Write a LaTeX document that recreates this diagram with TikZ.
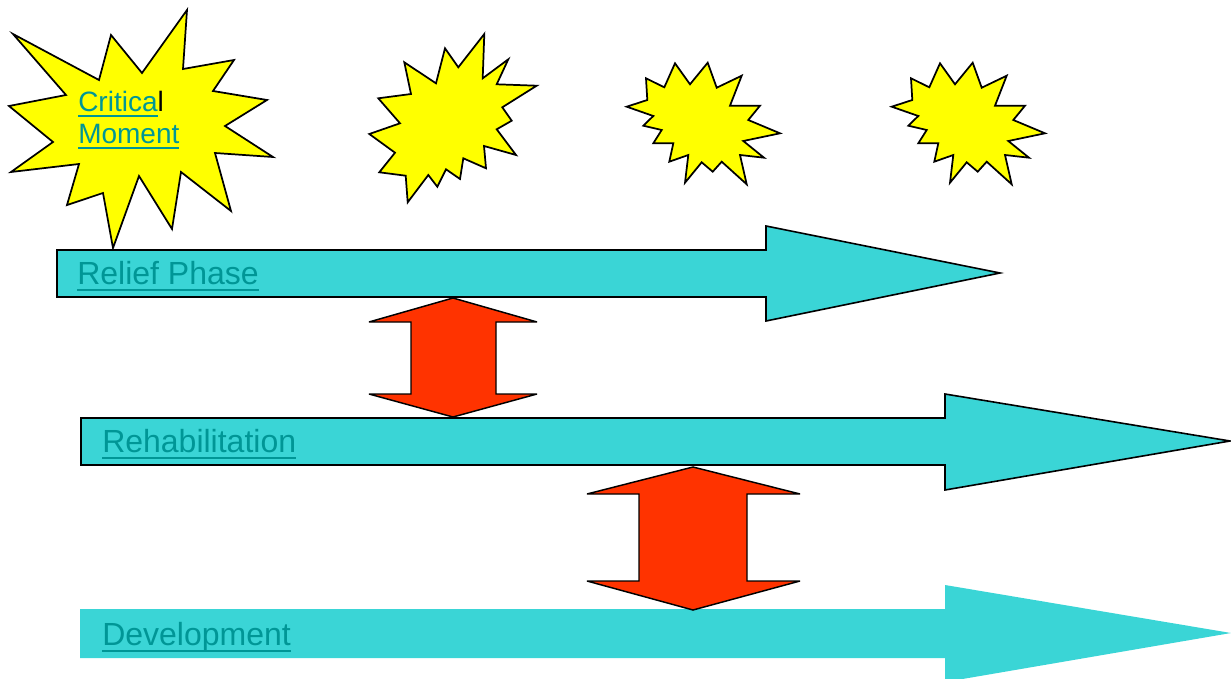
\documentclass[tikz,border=0pt]{standalone}
\usepackage{fontspec}
\setmainfont{Liberation Sans}
\definecolor{starY}{RGB}{255,255,0}
\definecolor{barC}{RGB}{58,213,214}
\definecolor{redA}{RGB}{255,51,0}
\definecolor{txtT}{RGB}{0,150,150}
\newcommand{\ulink}[1]{{\setbox0\hbox{#1}\rlap{\rule[-0.22em]{\wd0}{0.07em}}\box0}}
\tikzset{
  starshape/.style={fill=starY,draw=black,line width=1.3pt,line join=miter},
  bararrow/.style={fill=barC,draw=black,line width=1.2pt,line join=miter},
  bararrownl/.style={fill=barC,draw=none},
  dblarrow/.style={fill=redA,draw=black,line width=1.1pt,line join=miter,miter limit=4},
  lbl/.style={anchor=base west,inner sep=0pt,text=txtT,font=\fontsize{24}{28}\selectfont},
  lblsmall/.style={anchor=base west,inner sep=0pt,text=txtT,font=\fontsize{21}{25}\selectfont}
}
\begin{document}
\begin{tikzpicture}[x=0.75pt,y=-0.75pt]
\useasboundingbox (0,0) rectangle (1231,678);
% stars
\draw[starshape] (13,34) -- (99,80) -- (111,35) -- (142,73) -- (187,10) -- (183,69) -- (234,60) -- (213,91) -- (267,100) -- (225,126) -- (273,157) -- (215,153) -- (231,211) -- (181,172) -- (172,229) -- (139,176) -- (113,248) -- (103,193) -- (67,205) -- (79,164) -- (11,172) -- (53,142) -- (9,106) -- (66,95) -- cycle;
\draw[starshape] (484.3,34) -- (482.7,78.3) -- (508.3,59.3) -- (496.7,84.3) -- (536.7,85.7) -- (502.3,107.3) -- (511.7,120.7) -- (496.7,129.3) -- (516,155) -- (484,146) -- (486,168.3) -- (463.3,158.3) -- (460,179) -- (446,169.3) -- (437.3,186.7) -- (428.3,175) -- (407.7,202.3) -- (405.7,175.7) -- (379.3,172.3) -- (395,152.7) -- (369.3,134) -- (400,123.3) -- (378.3,98.3) -- (411,94) -- (404.3,62.3) -- (436,83.3) -- (445,48.3) -- (458.3,67.3) -- cycle;
\foreach \dx in {0,265}{
\draw[starshape,xshift=\dx*0.75pt] (675,63.3) -- (690,84.3) -- (707.7,62.7) -- (716.7,87.7) -- (741.7,75.7) -- (730,105.7) -- (760,105.7) -- (748.3,120) -- (780,133.3) -- (743.3,141) -- (764,157.7) -- (740,155) -- (746.7,184.3) -- (721.7,161.7) -- (712.7,171.7) -- (701.7,162.3) -- (685,182.7) -- (688.3,155) -- (669.3,161.7) -- (673.3,143.3) -- (653.3,143.3) -- (661.7,130) -- (643.3,125.7) -- (653.3,116) -- (626.7,106.7) -- (647.3,100) -- (646,78.3) -- (664.3,87.3) -- cycle;
}
% bar arrows
\draw[bararrow] (57,250) -- (766,250) -- (766,226) -- (1000,273) -- (766,321) -- (766,297) -- (57,297) -- cycle;
\draw[bararrow] (81,418) -- (945,418) -- (945,394) -- (1230,441) -- (945,490) -- (945,465) -- (81,465) -- cycle;
\fill[bararrownl] (80,609) -- (945,609) -- (945,585) -- (1231,633) -- (945,682) -- (945,658) -- (80,658) -- cycle;
% double arrows
\draw[dblarrow] (453,298) -- (537,322) -- (496,322) -- (496,394) -- (537,394) -- (453,417) -- (369,394) -- (411,394) -- (411,322) -- (369,322) -- cycle;
\draw[dblarrow] (693,467) -- (800,494) -- (747,494) -- (747,581) -- (800,581) -- (693,610) -- (587,581) -- (639,581) -- (639,494) -- (587,494) -- cycle;
% labels
\node[lblsmall] (crit) at (78,111) {\ulink{Critica}\textcolor{black}{l}};
\node[lblsmall] (mom) at (78,143) {\ulink{Moment}};
\node[lbl] (relief) at (77,284) {\ulink{Relief Phase}};
\node[lbl] (rehab) at (102,452) {\ulink{Rehabilitation}};
\node[lbl] (dev) at (102,645) {\ulink{Development}};
\end{tikzpicture}
\end{document}
